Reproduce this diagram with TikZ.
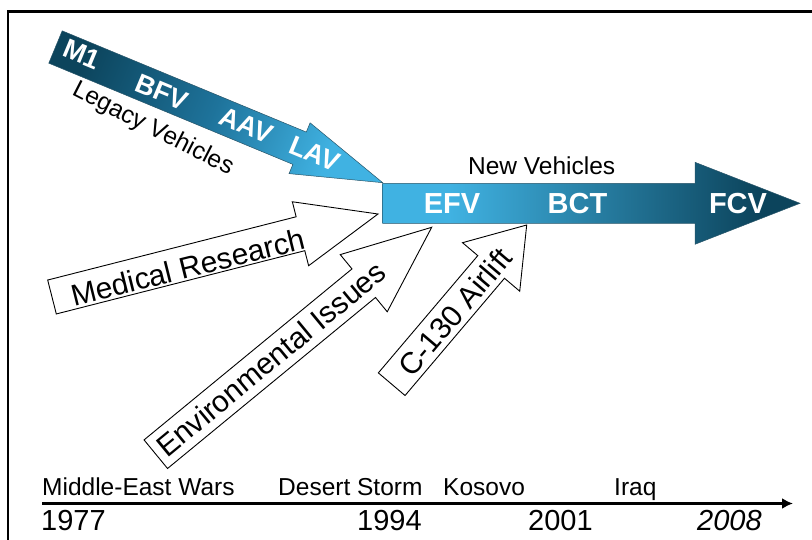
\documentclass[tikz,border=0pt]{standalone}
\usepackage{fontspec}
\setmainfont{Liberation Sans}
\usetikzlibrary{calc,arrows.meta}
\definecolor{darkb}{RGB}{12,68,92}
\definecolor{midb}{RGB}{30,115,155}
\definecolor{lightb}{RGB}{64,178,226}
\definecolor{edgeb}{RGB}{40,85,105}
\pgfdeclarehorizontalshading{legacyshade}{100bp}{color(0bp)=(darkb); color(25bp)=(darkb); color(50bp)=(midb); color(72bp)=(lightb); color(100bp)=(lightb)}
\pgfdeclarehorizontalshading{newshade}{100bp}{color(0bp)=(lightb); color(25bp)=(lightb); color(33bp)=(lightb); color(70bp)=(darkb); color(100bp)=(darkb)}
% #1 name, #2 tail centre, #3 tip, #4 half shaft, #5 half head, #6 head length
\newcommand\defblockarrow[6]{%
  \coordinate (#1-b) at ($(#3)!#6!(#2)$);
  \coordinate (#1-t1) at ($(#2)!#4!90:(#3)$);
  \coordinate (#1-t2) at ($(#2)!#4!-90:(#3)$);
  \coordinate (#1-s1) at ($(#1-b)!#4!90:(#3)$);
  \coordinate (#1-s2) at ($(#1-b)!#4!-90:(#3)$);
  \coordinate (#1-h1) at ($(#1-b)!#5!90:(#3)$);
  \coordinate (#1-h2) at ($(#1-b)!#5!-90:(#3)$);
}
\newcommand\blockpath[2]{(#1-t1) -- (#1-s1) -- (#1-h1) -- (#2) -- (#1-h2) -- (#1-s2) -- (#1-t2) -- cycle}
\begin{document}
\begin{tikzpicture}[x=1pt,y=-1pt,
  outline/.style={draw=black,line width=0.9pt,fill=white,line join=miter},
  big/.style={font=\fontsize{30}{36}\selectfont,inner sep=0pt},
  mid/.style={font=\fontsize{24.5}{30}\selectfont,inner sep=0pt},
  year/.style={font=\fontsize{29}{34}\selectfont,inner sep=0pt,anchor=base west},
  event/.style={font=\fontsize{24.5}{30}\selectfont,inner sep=0pt,anchor=base west},
  wlbl/.style={font=\fontsize{27}{32}\bfseries\selectfont,text=white,inner sep=0pt},
  nlbl/.style={font=\fontsize{29}{34}\bfseries\selectfont,text=white,inner sep=0pt,anchor=base}]
\useasboundingbox (0,0) rectangle (812,540);
% frame
\draw[line width=2.8pt] (8,541) -- (8,11.3) -- (813,11.3);

% coordinates of arrows
\coordinate (legT) at (55.5,47);
\coordinate (legP) at (382.7,182.7);
\coordinate (medT) at (52,297);
\coordinate (medP) at (378,214);
\coordinate (envT) at (155.8,454.2);
\coordinate (envP) at (431.7,227.3);
\coordinate (c13T) at (391.7,384.2);
\coordinate (c13P) at (526.7,225);
\coordinate (newT) at (382.7,203.3);
\coordinate (newP) at (800,203.3);
\defblockarrow{leg}{legT}{legP}{17.5pt}{27.5pt}{90pt}
\defblockarrow{med}{medT}{medP}{17.5pt}{33pt}{80pt}
\defblockarrow{env}{envT}{envP}{18.5pt}{37pt}{88pt}
\defblockarrow{c13}{c13T}{c13P}{17.5pt}{37.5pt}{55pt}
\defblockarrow{new}{newT}{newP}{20pt}{41pt}{105pt}

% white outline arrows
\path[outline] \blockpath{med}{medP};
\path[outline] \blockpath{env}{envP};
\path[outline] \blockpath{c13}{c13P};
\node[big,rotate=14] (medlbl) at (188,267) {Medical Research};
\node[big,rotate=39.5] (envlbl) at (271,359) {Environmental Issues};
\node[big,rotate=49.7] (c13lbl) at (455,312) {C-130 Airlift};

% legacy arrow
\shade[shading=legacyshade,shading angle=-22.5,draw=edgeb,line width=0.5pt] \blockpath{leg}{legP};
\node[wlbl,rotate=-22.5] (m1) at (82,54) {M1};
\node[wlbl,rotate=-22.5] (bfv) at (162,92) {BFV};
\node[wlbl,rotate=-22.5] (aav) at (246,125) {AAV};
\node[wlbl,rotate=-22.5] (lav) at (315,154) {LAV};
\node[mid,rotate=-27] (leglbl) at (153,129) {Legacy Vehicles};

% new vehicles arrow
\shade[shading=newshade,draw=edgeb,line width=0.5pt] \blockpath{new}{newP};
\node[mid,anchor=base] (newlbl) at (541.7,175) {New Vehicles};
\node[nlbl] (efv) at (452,214) {EFV};
\node[nlbl] (bct) at (577.5,214) {BCT};
\node[nlbl] (fcv) at (738,214) {FCV};

% timeline
\coordinate (tl0) at (42,503.5);
\coordinate (tl1) at (793,503.5);
\draw[line width=3pt,-{Latex[length=11pt,width=11pt]}] (tl0) -- (tl1);
\node[event] (ev1) at (42,495) {Middle-East Wars};
\node[event] (ev2) at (278,495) {Desert Storm};
\node[event] (ev3) at (443,495) {Kosovo};
\node[event] (ev4) at (614,495) {Iraq};
\node[year] (y1) at (41,530) {1977};
\node[year] (y2) at (357,530) {1994};
\node[year] (y3) at (528,530) {2001};
\node[year,font=\fontsize{29}{34}\itshape\selectfont] (y4) at (697,530) {2008};
\end{tikzpicture}
\end{document}
